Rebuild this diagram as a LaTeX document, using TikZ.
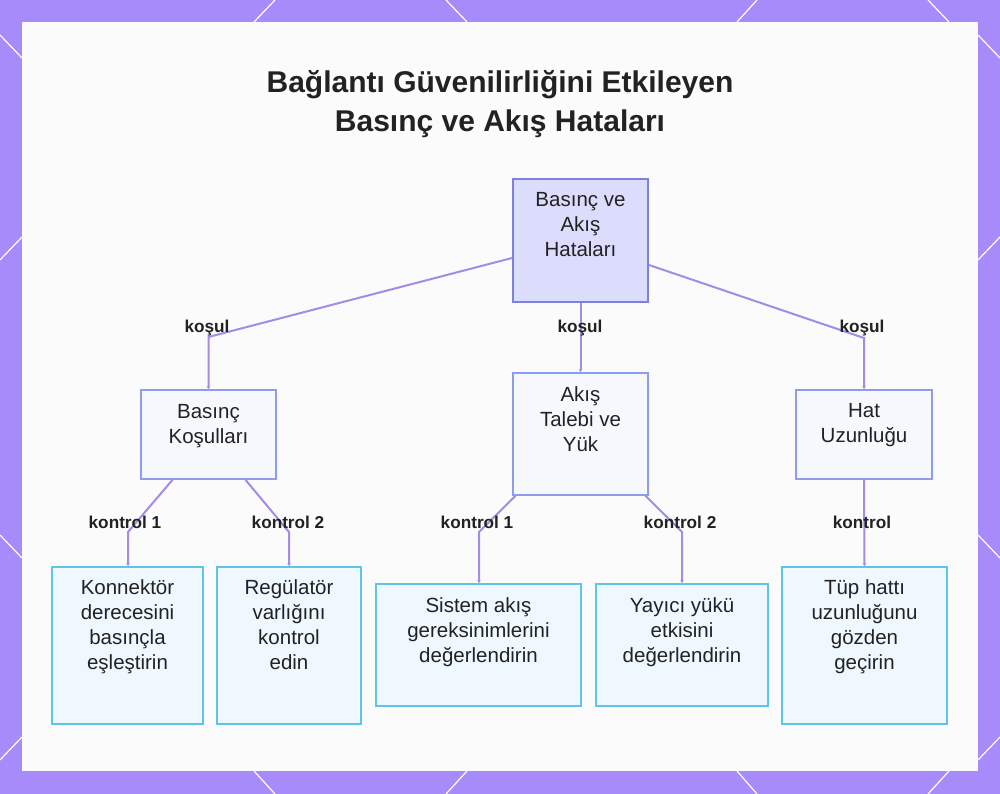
\documentclass[tikz,border=0pt]{standalone}
\usepackage{fontspec}
\setmainfont{Liberation Sans}
\usetikzlibrary{arrows.meta}
\definecolor{bgpurple}{HTML}{A78BFA}
\definecolor{panelc}{HTML}{FBFBFB}
\definecolor{connc}{HTML}{A48BE6}
\definecolor{rootfill}{HTML}{DCDCFC}
\definecolor{rootdraw}{HTML}{7D80E0}
\definecolor{midfill}{HTML}{F6F8FE}
\definecolor{middraw}{HTML}{8C9DF0}
\definecolor{leaffill}{HTML}{EEF8FE}
\definecolor{leafdraw}{HTML}{5CC6E8}
\definecolor{txtc}{HTML}{222222}
\tikzset{
  rootbox/.style={draw=rootdraw, fill=rootfill, line width=2pt, inner sep=0pt},
  midbox/.style={draw=middraw, fill=midfill, line width=1.7pt, inner sep=0pt},
  leafbox/.style={draw=leafdraw, fill=leaffill, line width=1.7pt, inner sep=0pt},
  boxtxt/.style={anchor=north, align=center, inner sep=0pt, text=txtc, font=\fontsize{20.5}{25.3}\selectfont},
  edgelbl/.style={inner sep=0pt, text=txtc, font=\bfseries\fontsize{17.2}{20}\selectfont},
  conn/.style={draw=connc, line width=2pt, -{Stealth[length=3pt,width=3.5pt]}},
  deco/.style={draw=white, line width=1.2pt}
}
\begin{document}
\begin{tikzpicture}[x=1pt,y=-1pt]
\useasboundingbox (0,0) rectangle (1000,794);
\fill[bgpurple] (0,0) rectangle (1000,794);
% decorative border lines
\draw[deco] (254,22) -- (275,0);
\draw[deco] (446,0) -- (467,22);
\draw[deco] (737,22) -- (757,0);
\draw[deco] (928,0) -- (949,22);
\draw[deco] (254,771) -- (275,794);
\draw[deco] (467,771) -- (446,794);
\draw[deco] (737,771) -- (757,794);
\draw[deco] (949,771) -- (928,794);
\draw[deco] (0,35) -- (22,58);
\draw[deco] (22,237) -- (0,260);
\draw[deco] (0,535) -- (22,558);
\draw[deco] (22,737) -- (0,760);
\draw[deco] (978,35) -- (1000,58);
\draw[deco] (978,260) -- (1000,237);
\draw[deco] (978,535) -- (1000,558);
\draw[deco] (978,760) -- (1000,737);
% panel
\fill[panelc] (22,22) rectangle (978,771);
% title
\node[text=txtc, align=center, font=\bfseries\fontsize{30}{39}\selectfont] (title) at (500,104) {Bağlantı Güvenilirliğini Etkileyen\\Basınç ve Akış Hataları};
% boxes
\node[rootbox, minimum width=135pt, minimum height=123pt] (root) at (580.5,240.5) {};
\node[midbox, minimum width=135pt, minimum height=89pt] (bk) at (208.5,434.5) {};
\node[midbox, minimum width=135pt, minimum height=122pt] (akis) at (580.5,434) {};
\node[midbox, minimum width=136pt, minimum height=89pt] (hat) at (864,434.5) {};
\node[leafbox, minimum width=151pt, minimum height=157pt] (kon) at (127.5,645.5) {};
\node[leafbox, minimum width=144pt, minimum height=157pt] (reg) at (289,645.5) {};
\node[leafbox, minimum width=205pt, minimum height=122pt] (sis) at (478.5,645) {};
\node[leafbox, minimum width=172pt, minimum height=122pt] (yay) at (682,645) {};
\node[leafbox, minimum width=165pt, minimum height=157pt] (tup) at (864.5,645.5) {};
% box texts
\node[boxtxt] (rootT) at (580.5,192) {Basınç ve\\Akış\\Hataları};
\node[boxtxt] (bkT) at (208.5,404) {Basınç\\Koşulları};
\node[boxtxt] (akisT) at (580.5,386) {Akış\\Talebi ve\\Yük};
\node[boxtxt] (hatT) at (864,403) {Hat\\Uzunluğu};
\node[boxtxt] (konT) at (127.5,579) {Konnektör\\derecesini\\basınçla\\eşleştirin};
\node[boxtxt] (regT) at (289,579) {Regülatör\\varlığını\\kontrol\\edin};
\node[boxtxt] (sisT) at (478.5,597) {Sistem akış\\gereksinimlerini\\değerlendirin};
\node[boxtxt] (yayT) at (682,597) {Yayıcı yükü\\etkisini\\değerlendirin};
\node[boxtxt] (tupT) at (864.5,579) {Tüp hattı\\uzunluğunu\\gözden\\geçirin};
% bend coordinates
\coordinate (b1) at (208.5,337);
\coordinate (b3) at (864,338);
\coordinate (b4) at (128,532);
\coordinate (b5) at (289,532);
\coordinate (b6) at (479,532);
\coordinate (b7) at (682,532);
% connectors
\draw[conn] ([yshift=-17.5pt]root.west) -- (b1) -- (bk.north);
\draw[conn] (root.south) -- (akis.north);
\draw[conn] ([yshift=-24.5pt]root.east) -- (b3) -- (hat.north);
\draw[conn] ([xshift=-36pt]bk.south) -- (b4) -- (kon.north -| b4);
\draw[conn] ([xshift=37pt]bk.south) -- (b5) -- (reg.north -| b5);
\draw[conn] ([xshift=-65pt]akis.south) -- (b6) -- (sis.north -| b6);
\draw[conn] ([xshift=65pt]akis.south) -- (b7) -- (yay.north -| b7);
\draw[conn] (hat.south) -- (tup.north);
% edge labels
\node[edgelbl] (l1) at (207,328) {koşul};
\node[edgelbl] (l2) at (580,328) {koşul};
\node[edgelbl] (l3) at (862,328) {koşul};
\node[edgelbl] (l4) at (125,522) {kontrol 1};
\node[edgelbl] (l5) at (288,522) {kontrol 2};
\node[edgelbl] (l6) at (477,522) {kontrol 1};
\node[edgelbl] (l7) at (680,522) {kontrol 2};
\node[edgelbl] (l8) at (862,522) {kontrol};
\end{tikzpicture}
\end{document}
